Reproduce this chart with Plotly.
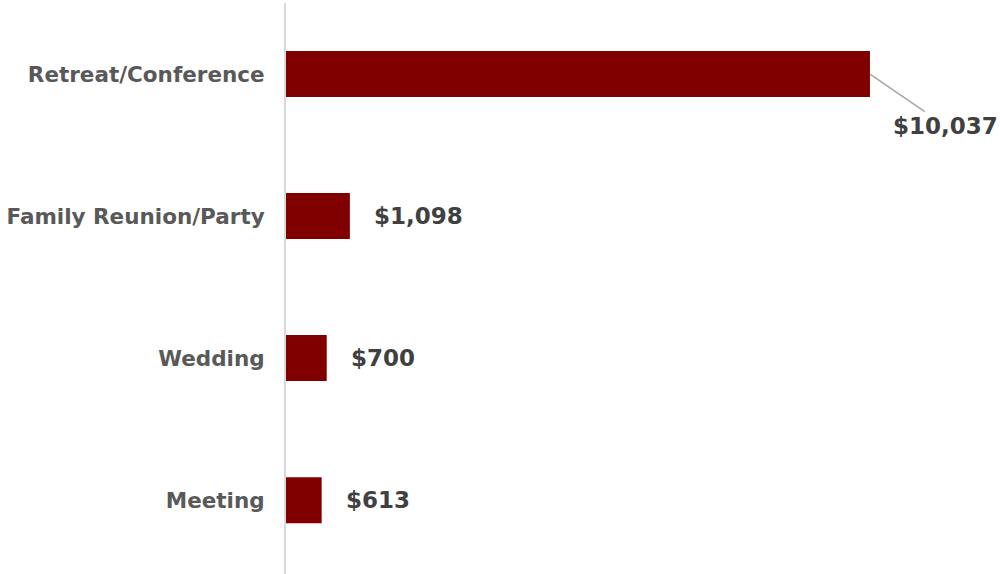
import plotly.graph_objects as go

# Average spend by event type
categories = ["Retreat/Conference", "Family Reunion/Party", "Wedding", "Meeting"]
values = [10037, 1098, 700, 613]
value_labels = ["$10,037", "$1,098", "$700", "$613"]

BAR_COLOR = "#800000"
CAT_COLOR = "#595959"
VAL_COLOR = "#404040"
FONT = "DejaVu Sans"

fig = go.Figure(
    go.Bar(
        x=values,
        y=categories,
        orientation="h",
        marker=dict(color=BAR_COLOR, line=dict(width=0)),
        hoverinfo="skip",
    )
)

annotations = []
for cat, val, lab in zip(categories, values, value_labels):
    if val == max(values):
        # largest bar: label sits below the bar end with a leader line
        annotations.append(dict(
            x=val, y=cat, xref="x", yref="y", text=f"<b>{lab}</b>",
            showarrow=True, arrowhead=0, arrowwidth=1.5, arrowcolor="#A6A6A6",
            ax=76, ay=52, font=dict(family=FONT, size=23, color=VAL_COLOR),
        ))
    else:
        annotations.append(dict(
            x=val, y=cat, xref="x", yref="y", text=f"<b>{lab}</b>",
            showarrow=False, xanchor="left", yanchor="middle", xshift=22,
            font=dict(family=FONT, size=23, color=VAL_COLOR),
        ))

fig.update_layout(
    width=1000, height=574,
    margin=dict(l=286, r=0, t=3, b=0),
    paper_bgcolor="white", plot_bgcolor="white",
    bargap=0.676,
    showlegend=False,
    annotations=annotations,
    xaxis=dict(range=[0, 12272], visible=False, fixedrange=True),
    yaxis=dict(
        categoryorder="array", categoryarray=categories[::-1],
        range=[-0.52, 3.5],
        showline=True, linecolor="#D9D9D9", linewidth=2,
        showgrid=False, zeroline=False, ticks="",
        ticklabelstandoff=15,
        tickfont=dict(family=FONT, size=21.5, color=CAT_COLOR, weight="bold"),
        fixedrange=True,
    ),
)

fig.write_html("out.html")
